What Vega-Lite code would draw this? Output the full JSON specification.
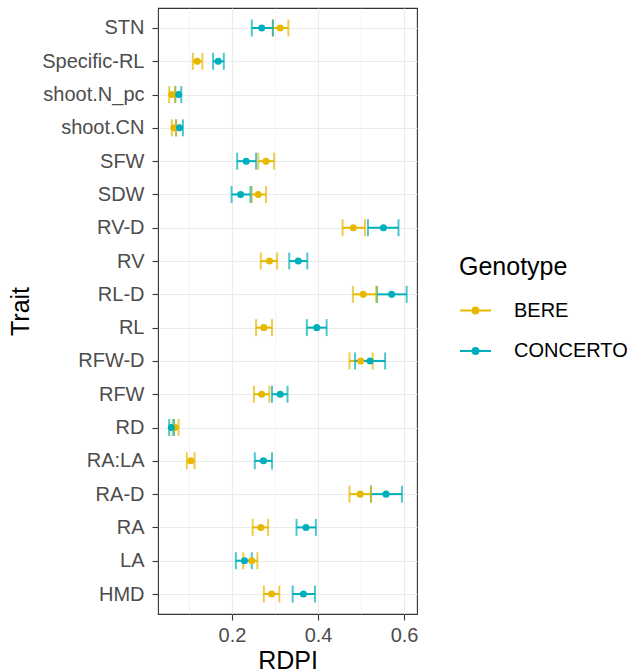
{
  "$schema": "https://vega.github.io/schema/vega-lite/v6.json",
  "width": 259,
  "height": 606,
  "autosize": "none",
  "padding": {"left": 158, "top": 8, "right": 227, "bottom": 57},
  "background": "white",
  "config": {
    "font": "Liberation Sans",
    "view": {"stroke": "#333333", "strokeWidth": 1.1, "fill": "white"},
    "axis": {
      "domain": false,
      "gridColor": "#EBEBEB",
      "tickColor": "#333333",
      "tickWidth": 1.1,
      "tickSize": 6,
      "labelColor": "#4D4D4D",
      "labelFontSize": 20,
      "labelPadding": 5,
      "titleColor": "black",
      "titleFontSize": 25,
      "titleFontWeight": "normal"
    }
  },
  "data": {
    "values": [
      {"trait": "STN", "genotype": "BERE", "mean": 0.312, "lo": 0.295, "hi": 0.331},
      {"trait": "Specific-RL", "genotype": "BERE", "mean": 0.119, "lo": 0.109, "hi": 0.131},
      {"trait": "shoot.N_pc", "genotype": "BERE", "mean": 0.060, "lo": 0.054, "hi": 0.068},
      {"trait": "shoot.CN", "genotype": "BERE", "mean": 0.065, "lo": 0.060, "hi": 0.070},
      {"trait": "SFW", "genotype": "BERE", "mean": 0.279, "lo": 0.261, "hi": 0.298},
      {"trait": "SDW", "genotype": "BERE", "mean": 0.261, "lo": 0.246, "hi": 0.279},
      {"trait": "RV-D", "genotype": "BERE", "mean": 0.482, "lo": 0.457, "hi": 0.509},
      {"trait": "RV", "genotype": "BERE", "mean": 0.287, "lo": 0.267, "hi": 0.305},
      {"trait": "RL-D", "genotype": "BERE", "mean": 0.505, "lo": 0.481, "hi": 0.535},
      {"trait": "RL", "genotype": "BERE", "mean": 0.274, "lo": 0.256, "hi": 0.293},
      {"trait": "RFW-D", "genotype": "BERE", "mean": 0.499, "lo": 0.473, "hi": 0.527},
      {"trait": "RFW", "genotype": "BERE", "mean": 0.269, "lo": 0.251, "hi": 0.287},
      {"trait": "RD", "genotype": "BERE", "mean": 0.068, "lo": 0.062, "hi": 0.076},
      {"trait": "RA:LA", "genotype": "BERE", "mean": 0.104, "lo": 0.095, "hi": 0.113},
      {"trait": "RA-D", "genotype": "BERE", "mean": 0.498, "lo": 0.473, "hi": 0.523},
      {"trait": "RA", "genotype": "BERE", "mean": 0.267, "lo": 0.248, "hi": 0.284},
      {"trait": "LA", "genotype": "BERE", "mean": 0.246, "lo": 0.226, "hi": 0.259},
      {"trait": "HMD", "genotype": "BERE", "mean": 0.292, "lo": 0.274, "hi": 0.310},
      {"trait": "STN", "genotype": "CONCERTO", "mean": 0.269, "lo": 0.246, "hi": 0.295},
      {"trait": "Specific-RL", "genotype": "CONCERTO", "mean": 0.168, "lo": 0.156, "hi": 0.181},
      {"trait": "shoot.N_pc", "genotype": "CONCERTO", "mean": 0.076, "lo": 0.068, "hi": 0.082},
      {"trait": "shoot.CN", "genotype": "CONCERTO", "mean": 0.078, "lo": 0.070, "hi": 0.086},
      {"trait": "SFW", "genotype": "CONCERTO", "mean": 0.233, "lo": 0.212, "hi": 0.256},
      {"trait": "SDW", "genotype": "CONCERTO", "mean": 0.220, "lo": 0.199, "hi": 0.243},
      {"trait": "RV-D", "genotype": "CONCERTO", "mean": 0.552, "lo": 0.516, "hi": 0.587},
      {"trait": "RV", "genotype": "CONCERTO", "mean": 0.354, "lo": 0.333, "hi": 0.375},
      {"trait": "RL-D", "genotype": "CONCERTO", "mean": 0.571, "lo": 0.537, "hi": 0.606},
      {"trait": "RL", "genotype": "CONCERTO", "mean": 0.397, "lo": 0.374, "hi": 0.420},
      {"trait": "RFW-D", "genotype": "CONCERTO", "mean": 0.521, "lo": 0.486, "hi": 0.556},
      {"trait": "RFW", "genotype": "CONCERTO", "mean": 0.312, "lo": 0.293, "hi": 0.329},
      {"trait": "RD", "genotype": "CONCERTO", "mean": 0.059, "lo": 0.054, "hi": 0.065},
      {"trait": "RA:LA", "genotype": "CONCERTO", "mean": 0.273, "lo": 0.253, "hi": 0.293},
      {"trait": "RA-D", "genotype": "CONCERTO", "mean": 0.558, "lo": 0.523, "hi": 0.595},
      {"trait": "RA", "genotype": "CONCERTO", "mean": 0.372, "lo": 0.350, "hi": 0.395},
      {"trait": "LA", "genotype": "CONCERTO", "mean": 0.229, "lo": 0.209, "hi": 0.246},
      {"trait": "HMD", "genotype": "CONCERTO", "mean": 0.366, "lo": 0.341, "hi": 0.393}
    ]
  },
  "encoding": {
    "y": {
      "field": "trait",
      "type": "nominal",
      "scale": {
        "type": "point",
        "padding": 0.6,
        "domain": ["STN", "Specific-RL", "shoot.N_pc", "shoot.CN", "SFW", "SDW", "RV-D", "RV", "RL-D", "RL", "RFW-D", "RFW", "RD", "RA:LA", "RA-D", "RA", "LA", "HMD"]
      },
      "axis": {
        "title": "Trait",
        "grid": true,
        "gridWidth": 1.1,
        "labelPadding": 8,
        "titleAngle": 270,
        "titleAlign": "center",
        "titleBaseline": "alphabetic",
        "titleX": -130,
        "titleY": 303
      }
    },
    "color": {
      "field": "genotype",
      "type": "nominal",
      "scale": {"domain": ["BERE", "CONCERTO"], "range": ["#E7B800", "#00AFBB"]},
      "legend": {
        "title": "Genotype",
        "orient": "none",
        "legendX": 301,
        "legendY": 247,
        "titleFontSize": 25,
        "titleFontWeight": "normal",
        "titleColor": "black",
        "titlePadding": 14,
        "labelFontSize": 20,
        "labelColor": "black",
        "labelOffset": 22,
        "rowPadding": 13.5,
        "symbolType": "M-1,0L1,0M-0.19,0a0.19,0.19 0 1,0 0.38,0a0.19,0.19 0 1,0 -0.38,0Z",
        "symbolSize": 961,
        "symbolStrokeWidth": 2,
        "encode": {
          "symbols": {
            "update": {
              "stroke": {"scale": "color", "field": "value"},
              "fill": {"scale": "color", "field": "value"},
              "strokeWidth": {"value": 2},
              "opacity": {"value": 1}
            }
          }
        }
      }
    }
  },
  "layer": [
    {
      "mark": {"type": "rule", "strokeWidth": 2},
      "encoding": {
        "x": {
          "field": "lo",
          "type": "quantitative",
          "scale": {"domain": [0.028, 0.63], "nice": false, "zero": false},
          "axis": {
            "title": "RDPI",
            "values": [0.1, 0.2, 0.3, 0.4, 0.5, 0.6],
            "labelExpr": "round(datum.value*10)%2==0 ? format(datum.value, '.1f') : ''",
            "gridWidth": {"condition": {"test": "round(datum.value*10)%2==0", "value": 1.1}, "value": 0.55},
            "tickOpacity": {"condition": {"test": "round(datum.value*10)%2==0", "value": 1}, "value": 0},
            "labelPadding": 5,
            "titleBaseline": "top",
            "titleY": 34
          }
        },
        "x2": {"field": "hi"}
      }
    },
    {
      "mark": {"type": "tick", "size": 17, "thickness": 2, "orient": "vertical"},
      "encoding": {"x": {"field": "lo", "type": "quantitative"}}
    },
    {
      "mark": {"type": "tick", "size": 17, "thickness": 2, "orient": "vertical"},
      "encoding": {"x": {"field": "hi", "type": "quantitative"}}
    },
    {
      "mark": {"type": "point", "filled": true, "size": 50, "opacity": 1},
      "encoding": {"x": {"field": "mean", "type": "quantitative"}}
    }
  ]
}
